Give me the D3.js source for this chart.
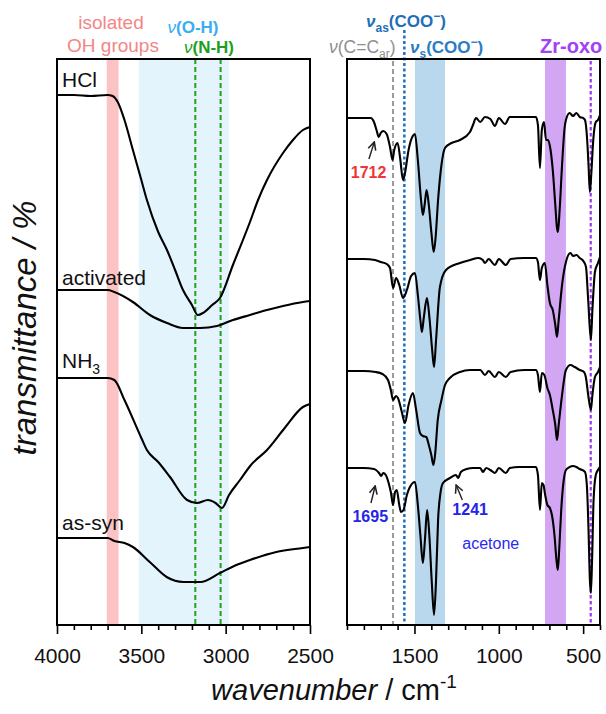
<!DOCTYPE html>
<html><head><meta charset="utf-8">
<script src="https://cdn.jsdelivr.net/npm/d3@7"></script>
<style>body{margin:0;background:#fff}svg{display:block}text{font-family:"Liberation Sans",Arial,sans-serif}</style>
</head><body><svg id="c" width="606" height="714"></svg>
<script>
// ---------- tick labels ----------
const leftTicksMajor = [4000, 3500, 3000, 2500];
const leftTicksMinor = [3900, 3800, 3700, 3600, 3400, 3300, 3200, 3100, 2900, 2800, 2700, 2600];
const rightTicksMajor = [1500, 1000, 500];
const rightTicksMinor = [1900, 1800, 1700, 1600, 1400, 1300, 1200, 1100, 900, 800, 700, 600, 400];

// ---------- spectra: [wavenumber (cm-1), offset transmittance (a.u.)] ----------
const hclHigh = [[4000,530],[3900,530],[3800,529],[3700,530],[3670,529],[3640,523],[3600,505],[3550,475],[3500,445],[3467,425],[3400,393],[3348,375],[3300,355],[3253,335],[3200,320],[3165,310],[3135,312],[3080,320],[3034,327],[2957,360],[2856,403],[2808,425],[2755,445],[2660,472],[2601,485],[2542,495],[2500,498]];
const activatedHigh = [[4000,335],[3700,335],[3660,333],[3550,323],[3449,310],[3348,302],[3253,297],[3152,297],[3052,299],[2957,305],[2856,310],[2755,315],[2660,319],[2542,323],[2500,324]];
const nh3High = [[4000,247],[3700,247],[3660,245],[3600,225],[3500,187],[3467,175],[3400,163],[3330,148],[3229,125],[3170,122],[3105,125],[3060,122],[3022,117],[2980,130],[2915,145],[2850,160],[2755,175],[2650,197],[2542,218],[2500,221]];
const asSynHigh = [[4000,87],[3700,87],[3660,84],[3600,82],[3550,78],[3450,63],[3350,48],[3250,43],[3150,43],[3034,52],[2950,59],[2856,65],[2700,73],[2542,77],[2500,78]];

const hclLow = [[1900,507],[1800,507],[1760,507],[1740,503],[1725,495],[1712,488],[1700,492],[1685,494],[1665,491],[1645,478],[1630,465],[1620,475],[1600,482],[1585,467],[1568,445],[1555,453],[1535,475],[1510,489],[1497,491],[1480,465],[1461,425],[1450,410],[1440,420],[1428,435],[1415,420],[1400,393],[1386,373],[1375,387],[1360,425],[1340,460],[1319,477],[1280,482],[1230,485],[1171,493],[1153,500],[1135,507],[1110,503],[1082,508],[1050,506],[1023,499],[1000,507],[963,501],[935,508],[880,508],[820,508],[780,508],[768,500],[756,457],[745,495],[732,503],[720,485],[708,485],[695,477],[680,455],[665,420],[655,397],[649,393],[640,413],[625,460],[610,497],[602,505],[580,512],[560,509],[540,512],[520,508],[500,507],[489,505],[478,490],[468,460],[460,433],[452,450],[440,485],[425,503],[412,505],[400,510]];
const activatedLow = [[1900,366],[1800,366],[1734,365],[1700,363],[1665,361],[1645,357],[1627,337],[1609,347],[1590,340],[1568,327],[1545,335],[1520,349],[1497,352],[1480,330],[1465,305],[1456,293],[1445,307],[1426,327],[1410,305],[1395,275],[1384,258],[1372,285],[1349,338],[1313,355],[1230,362],[1171,365],[1120,367],[1095,365],[1082,362],[1060,366],[1023,360],[1000,366],[958,360],[930,366],[850,367],[780,367],[768,363],[756,345],[745,357],[727,362],[712,340],[697,322],[680,315],[665,300],[655,288],[645,305],[625,340],[602,363],[575,372],[560,369],[540,370],[520,367],[495,363],[483,358],[470,325],[454,285],[445,315],[430,353],[412,362],[400,368]];
const nh3Low = [[1900,254],[1800,254],[1730,253],[1690,251],[1657,245],[1640,235],[1627,225],[1610,229],[1598,227],[1575,213],[1556,202],[1535,220],[1509,232],[1490,215],[1467,192],[1450,189],[1430,188],[1415,180],[1400,170],[1388,160],[1378,170],[1362,205],[1340,225],[1319,240],[1290,247],[1230,253],[1171,255],[1110,255],[1082,250],[1060,254],[1023,248],[1000,253],[958,248],[930,253],[850,255],[780,255],[768,250],[756,233],[745,252],[730,250],[712,237],[697,230],[680,215],[665,200],[655,185],[645,200],[625,230],[602,255],[575,260],[550,258],[520,255],[495,253],[483,247],[470,230],[454,215],[445,230],[430,248],[412,253],[400,258]];
const asSynLow = [[1900,157],[1800,157],[1740,156],[1728,155],[1710,152],[1698,149],[1685,152],[1670,150],[1650,140],[1639,132],[1627,120],[1615,133],[1605,135],[1590,120],[1580,113],[1565,115],[1545,130],[1527,138],[1497,143],[1480,120],[1465,90],[1450,62],[1438,85],[1425,115],[1412,90],[1398,45],[1384,10],[1372,45],[1360,105],[1345,133],[1331,142],[1290,147],[1254,150],[1241,147],[1225,153],[1190,156],[1153,157],[1110,157],[1094,153],[1075,157],[1050,155],[1023,152],[1000,157],[958,152],[935,157],[880,158],[780,158],[768,150],[756,115],[745,142],[735,140],[725,130],[712,120],[697,117],[685,110],[670,90],[658,65],[650,55],[642,75],[630,115],[615,145],[602,155],[580,158],[560,159],[540,158],[520,156],[489,153],[478,140],[468,95],[460,45],[454,32],[447,65],[438,125],[425,150],[412,155],[400,158]];

// ---------- marked regions / lines (cm-1) ----------
const isolatedOHBand = [3705, 3635];
const ohBand = [3515, 2980];
const nhLines = [3180, 3030];
const cooSymBand = [1497, 1319];
const zrOxoBand = [726, 602];
const ccLine = 1627, cooAsLine = 1560, zrOxoLine = 455;

const svg = d3.select("#c");
const yTop = 59, yBot = 625;
const xL = d3.scaleLinear().domain([4000, 2500]).range([57, 310]);
const xR = d3.scaleLinear().domain([1900, 400]).range([347, 600]);
const y = d3.scaleLinear().domain([0, 566]).range([yBot, yTop]);

// bands
function band(x, r, col) {
  svg.append("rect").attr("x", x(r[0])).attr("width", x(r[1]) - x(r[0]))
    .attr("y", yTop).attr("height", yBot - yTop).attr("fill", col);
}
band(xL, ohBand, "#e4f4fd");
band(xL, isolatedOHBand, "#fbc3c3");
band(xR, cooSymBand, "#b9d8ee");
band(xR, zrOxoBand, "#d3a6f4");

function vline(x, v, y0, col, dash, w) {
  svg.append("line").attr("x1", x(v)).attr("x2", x(v)).attr("y1", y0).attr("y2", yBot)
    .attr("stroke", col).attr("stroke-width", w).attr("stroke-dasharray", dash);
}
nhLines.forEach(v => vline(xL, v, yTop, "#21a021", "5,3", 2));
vline(xR, ccLine, yTop + 2, "#9a9a9a", "5,3", 2);
vline(xR, cooAsLine, 30, "#1f72bd", "3,2.5", 2.5);
vline(xR, zrOxoLine, yTop + 2, "#9b35f0", "3.5,2.5", 2.2);

// spectra
function trace(x, data) {
  const line = d3.line().x(d => x(d[0])).y(d => y(d[1])).curve(d3.curveMonotoneX);
  svg.append("path").attr("d", line(data)).attr("fill", "none").attr("stroke", "#000")
    .attr("stroke-width", 2.1).attr("stroke-linejoin", "round");
}
[hclHigh, activatedHigh, nh3High, asSynHigh].forEach(d => trace(xL, d));
[hclLow, activatedLow, nh3Low, asSynLow].forEach(d => trace(xR, d));

// frames
[xL, xR].forEach(x => {
  svg.append("rect").attr("x", x.range()[0]).attr("y", yTop)
    .attr("width", x.range()[1] - x.range()[0]).attr("height", yBot - yTop)
    .attr("fill", "none").attr("stroke", "#000").attr("stroke-width", 2);
});

// axes
function axes(x, major, minor) {
  const gMinor = svg.append("g").attr("transform", `translate(0,${yBot})`)
    .call(d3.axisBottom(x).tickValues(minor).tickSize(5).tickFormat(""));
  const gMajor = svg.append("g").attr("transform", `translate(0,${yBot})`)
    .call(d3.axisBottom(x).tickValues(major).tickSize(9).tickPadding(14).tickFormat(d3.format("d")));
  [gMinor, gMajor].forEach(g => {
    g.select(".domain").remove();
    g.selectAll(".tick line").attr("stroke", "#000").attr("stroke-width", 1.6);
    g.selectAll("text").attr("font-size", 21).attr("fill", "#111")
      .attr("font-family", '"Liberation Sans",Arial,sans-serif');
  });
}
axes(xL, leftTicksMajor, leftTicksMinor);
axes(xR, rightTicksMajor, rightTicksMinor);

// axis titles
const xt = svg.append("text").attr("x", 334).attr("y", 700).attr("text-anchor", "middle")
  .attr("font-size", 29).attr("fill", "#111");
xt.append("tspan").attr("font-style", "italic").text("wavenumber");
xt.append("tspan").text(" / cm");
xt.append("tspan").attr("font-size", 19).attr("dy", -12).text("-1");

svg.append("text").attr("transform", "translate(36,328) rotate(-90)").attr("text-anchor", "middle")
  .attr("font-size", 33).attr("font-style", "italic").attr("fill", "#111").text("transmittance / %");

// trace labels
function label(x, yy, t, size) {
  return svg.append("text").attr("x", x).attr("y", yy).attr("font-size", size || 21).attr("fill", "#111").text(t);
}
label(62, 87, "HCl");
label(62, 285, "activated");
const nh = label(62, 368, "NH");
nh.append("tspan").attr("font-size", 14).attr("dy", 6).text("3");
label(62, 530, "as-syn");

// top annotations, left panel
svg.append("text").attr("x", 111).attr("y", 29).attr("text-anchor", "middle").attr("font-size", 19)
  .attr("fill", "#f28686").text("isolated");
svg.append("text").attr("x", 113).attr("y", 52).attr("text-anchor", "middle").attr("font-size", 19)
  .attr("fill", "#f28686").text("OH groups");
function nuLabel(x, yy, rest, col, anchor) {
  const t = svg.append("text").attr("x", x).attr("y", yy).attr("text-anchor", anchor || "middle")
    .attr("font-size", 17).attr("font-weight", "bold").attr("fill", col);
  t.append("tspan").attr("font-style", "italic").attr("font-weight", "normal").text("ν");
  t.append("tspan").text(rest);
  return t;
}
nuLabel(193, 33, "(O-H)", "#3badf0");
nuLabel(209, 53, "(N-H)", "#1e9e1e");

// top annotations, right panel
const as = svg.append("text").attr("x", 366).attr("y", 27).attr("font-size", 17)
  .attr("font-weight", "bold").attr("fill", "#1f6fb8");
as.append("tspan").attr("font-style", "italic").text("ν");
as.append("tspan").attr("font-size", 12).attr("dy", 5).text("as");
as.append("tspan").attr("dy", -5).text("(COO");
as.append("tspan").attr("font-size", 12).attr("dy", -7).text("−");
as.append("tspan").attr("dy", 7).text(")");

const cc = svg.append("text").attr("x", 329).attr("y", 53).attr("font-size", 17.5).attr("fill", "#8f8f8f");
cc.append("tspan").attr("font-style", "italic").text("ν");
cc.append("tspan").text("(C=C");
cc.append("tspan").attr("font-size", 12).attr("dy", 5).text("ar");
cc.append("tspan").attr("dy", -5).text(")");

const ss = svg.append("text").attr("x", 410).attr("y", 53).attr("font-size", 17)
  .attr("font-weight", "bold").attr("fill", "#2a7cc4");
ss.append("tspan").attr("font-style", "italic").text("ν");
ss.append("tspan").attr("font-size", 12).attr("dy", 5).text("s");
ss.append("tspan").attr("dy", -5).text("(COO");
ss.append("tspan").attr("font-size", 12).attr("dy", -7).text("−");
ss.append("tspan").attr("dy", 7).text(")");

svg.append("text").attr("x", 540).attr("y", 53).attr("font-size", 20).attr("font-weight", "bold")
  .attr("fill", "#a241f4").text("Zr-oxo");

// peak annotations (positions in data units)
const peakNotes = [
  {t: "1712", col: "#f03535", tx: 1772, ty: 447, from: [1770, 466], to: [1738, 483]},
  {t: "1695", col: "#2424ea", tx: 1762, ty: 103, from: [1758, 122], to: [1733, 139]},
  {t: "1241", col: "#2424ea", tx: 1170, ty: 110, from: [1216, 125], to: [1253, 140]}
];
svg.append("defs").append("marker").attr("id", "ah").attr("viewBox", "0 0 10 10")
  .attr("refX", 9).attr("refY", 5).attr("markerWidth", 7).attr("markerHeight", 7)
  .attr("orient", "auto").append("path").attr("d", "M1,1 L9,5 L1,9")
  .attr("fill", "none").attr("stroke", "#222").attr("stroke-width", 1.6);
peakNotes.forEach(p => {
  svg.append("text").attr("x", xR(p.tx)).attr("y", y(p.ty)).attr("text-anchor", "middle")
    .attr("font-size", 16).attr("font-weight", "bold").attr("fill", p.col).text(p.t);
  svg.append("line").attr("x1", xR(p.from[0])).attr("y1", y(p.from[1]))
    .attr("x2", xR(p.to[0])).attr("y2", y(p.to[1])).attr("stroke", "#222")
    .attr("stroke-width", 1.4).attr("marker-end", "url(#ah)");
});
svg.append("text").attr("x", xR(1048)).attr("y", y(76)).attr("text-anchor", "middle")
  .attr("font-size", 16).attr("fill", "#2a2aee").text("acetone");
</script></body></html>
